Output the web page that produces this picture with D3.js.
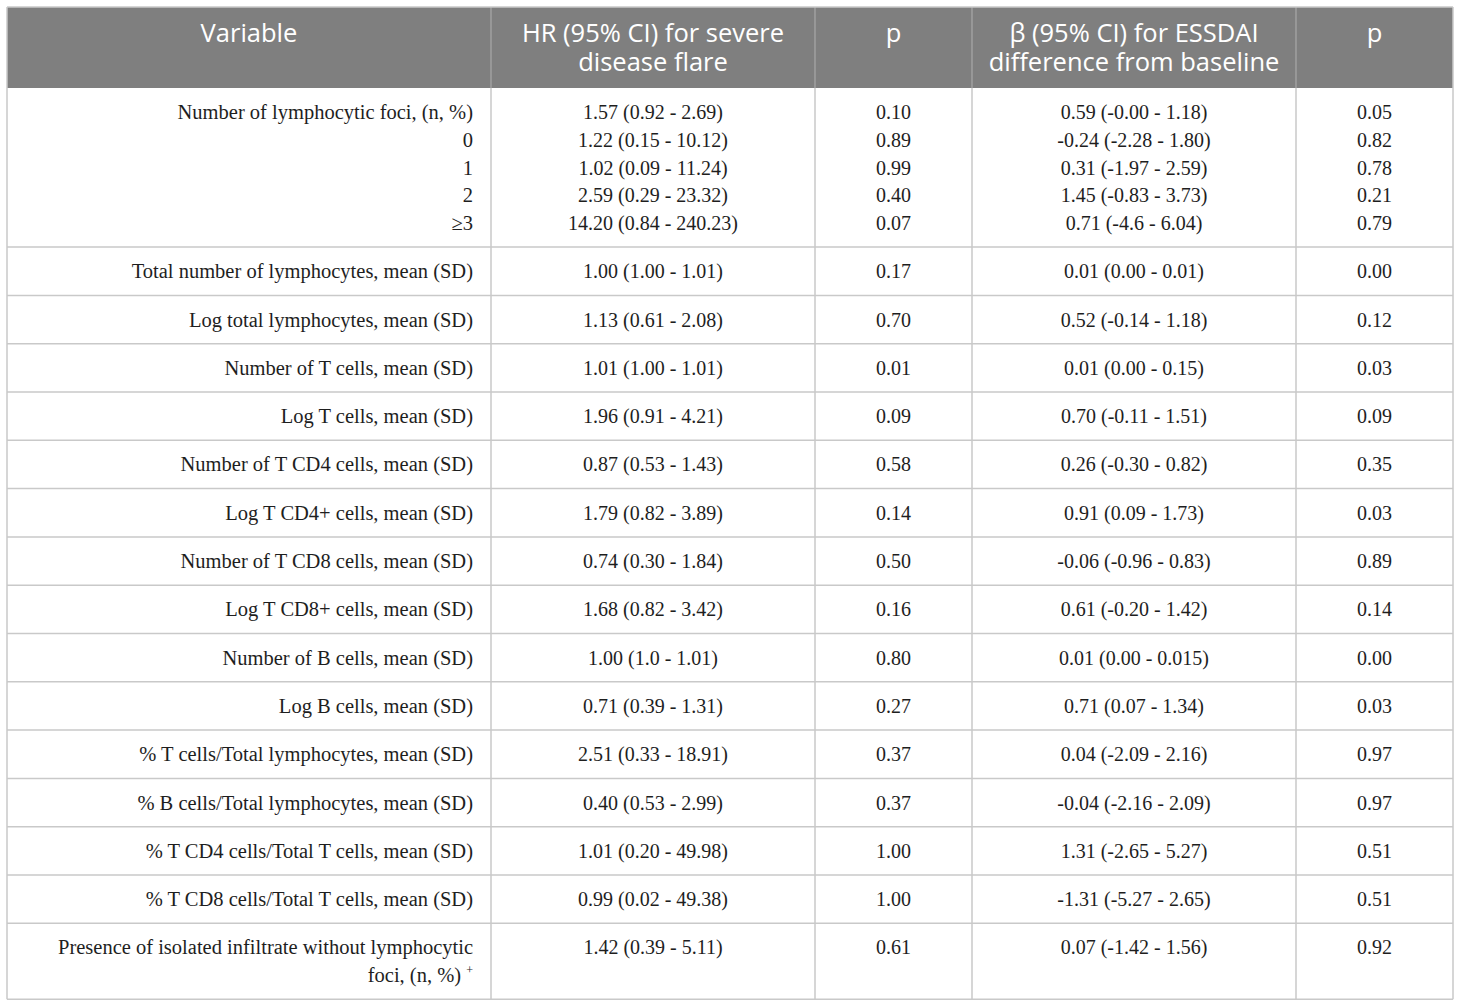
<!DOCTYPE html>
<html lang="en">
<head>
  <meta charset="UTF-8">
  <title>Lymphocytic infiltrate and disease activity</title>
  <script src="https://d3js.org/d3.v7.min.js"></script>
  <style>
    body {
      margin: 0;
      background: #fff;
    }

    svg {
      display: block;
    }

    .head text {
      font-family: "Open Sans", "Noto Sans", sans-serif;
      font-size: 25.5px;
      fill: #fff;
    }

    .body text {
      font-family: "Liberation Serif", "DejaVu Serif", serif;
      font-size: 20px;
      fill: #1e1e1e;
    }

    .body text.label {
      font-size: 20.5px;
    }
  </style>
</head>
<body>
  <svg width="1460" height="1008"></svg>

  <script>
    // header cells, one array of lines per column
    const headers = [
      ["Variable"],
      ["HR (95% CI) for severe", "disease flare"],
      ["p"],
      ["\u03b2 (95% CI) for ESSDAI", "difference from baseline"],
      ["p"]
    ];

    // one entry per table row; the first row holds the foci sub-categories
    const variables = [
      ["Number of lymphocytic foci, (n, %)", "0", "1", "2", "\u22653"],
      ["Total number of lymphocytes, mean (SD)"],
      ["Log total lymphocytes, mean (SD)"],
      ["Number of T cells, mean (SD)"],
      ["Log T cells, mean (SD)"],
      ["Number of T CD4 cells, mean (SD)"],
      ["Log T CD4+ cells, mean (SD)"],
      ["Number of T CD8 cells, mean (SD)"],
      ["Log T CD8+ cells, mean (SD)"],
      ["Number of B cells, mean (SD)"],
      ["Log B cells, mean (SD)"],
      ["% T cells/Total lymphocytes, mean (SD)"],
      ["% B cells/Total lymphocytes, mean (SD)"],
      ["% T CD4 cells/Total T cells, mean (SD)"],
      ["% T CD8 cells/Total T cells, mean (SD)"],
      ["Presence of isolated infiltrate without lymphocytic", "foci, (n, %)+"]
    ];

    const hrFlare = [
      ["1.57 (0.92 - 2.69)", "1.22 (0.15 - 10.12)", "1.02 (0.09 - 11.24)", "2.59 (0.29 - 23.32)", "14.20 (0.84 - 240.23)"],
      ["1.00 (1.00 - 1.01)"],
      ["1.13 (0.61 - 2.08)"],
      ["1.01 (1.00 - 1.01)"],
      ["1.96 (0.91 - 4.21)"],
      ["0.87 (0.53 - 1.43)"],
      ["1.79 (0.82 - 3.89)"],
      ["0.74 (0.30 - 1.84)"],
      ["1.68 (0.82 - 3.42)"],
      ["1.00 (1.0 - 1.01)"],
      ["0.71 (0.39 - 1.31)"],
      ["2.51 (0.33 - 18.91)"],
      ["0.40 (0.53 - 2.99)"],
      ["1.01 (0.20 - 49.98)"],
      ["0.99 (0.02 - 49.38)"],
      ["1.42 (0.39 - 5.11)"]
    ];

    const pFlare = [
      ["0.10", "0.89", "0.99", "0.40", "0.07"],
      ["0.17"], ["0.70"], ["0.01"], ["0.09"], ["0.58"], ["0.14"], ["0.50"],
      ["0.16"], ["0.80"], ["0.27"], ["0.37"], ["0.37"], ["1.00"], ["1.00"],
      ["0.61"]
    ];

    const betaEssdai = [
      ["0.59 (-0.00 - 1.18)", "-0.24 (-2.28 - 1.80)", "0.31 (-1.97 - 2.59)", "1.45 (-0.83 - 3.73)", "0.71 (-4.6 - 6.04)"],
      ["0.01 (0.00 - 0.01)"],
      ["0.52 (-0.14 - 1.18)"],
      ["0.01 (0.00 - 0.15)"],
      ["0.70 (-0.11 - 1.51)"],
      ["0.26 (-0.30 - 0.82)"],
      ["0.91 (0.09 - 1.73)"],
      ["-0.06 (-0.96 - 0.83)"],
      ["0.61 (-0.20 - 1.42)"],
      ["0.01 (0.00 - 0.015)"],
      ["0.71 (0.07 - 1.34)"],
      ["0.04 (-2.09 - 2.16)"],
      ["-0.04 (-2.16 - 2.09)"],
      ["1.31 (-2.65 - 5.27)"],
      ["-1.31 (-5.27 - 2.65)"],
      ["0.07 (-1.42 - 1.56)"]
    ];

    const pEssdai = [
      ["0.05", "0.82", "0.78", "0.21", "0.79"],
      ["0.00"], ["0.12"], ["0.03"], ["0.09"], ["0.35"], ["0.03"], ["0.89"],
      ["0.14"], ["0.00"], ["0.03"], ["0.97"], ["0.97"], ["0.51"], ["0.51"],
      ["0.92"]
    ];

    const columns = [variables, hrFlare, pFlare, betaEssdai, pEssdai];

    // layout
    const left = 7, right = 1453, tableTop = 7, headH = 81;
    const colWidths = [484, 324, 157, 324, 157];
    const lineH = 27.7, padV = 20.6, padX = 18;
    const border = "#c9c9c9";

    const svg = d3.select("svg");

    const edges = Array.from(d3.cumsum([left].concat(colWidths)));
    const colX = d3.scaleOrdinal().domain(d3.range(5)).range(edges.slice(0, 5));
    const colW = d3.scaleOrdinal().domain(d3.range(5)).range(colWidths);

    const rowHeights = variables.map(v => v.length * lineH + padV);
    const rowTops = Array.from(d3.cumsum([0].concat(rowHeights))).map(d => tableTop + headH + d);
    const bottom = rowTops[rowTops.length - 1];

    // header
    const head = svg.append("g").attr("class", "head");
    head.append("rect")
      .attr("x", left).attr("y", tableTop)
      .attr("width", right - left).attr("height", headH)
      .attr("fill", "#7f7f7f");

    head.selectAll("line.sep")
      .data(edges.slice(1, 5))
      .join("line")
      .attr("class", "sep")
      .attr("x1", d => d).attr("x2", d => d)
      .attr("y1", tableTop).attr("y2", tableTop + headH)
      .attr("stroke", "#a8a8a8").attr("stroke-width", 1.2);

    headers.forEach((lines, c) => {
      lines.forEach((line, i) => {
        head.append("text")
          .attr("text-anchor", "middle")
          .attr("x", colX(c) + colW(c) / 2)
          .attr("y", tableTop + 35 + i * 29)
          .text(line);
      });
    });

    // body
    const body = svg.append("g").attr("class", "body");

    body.selectAll("line.h")
      .data(rowTops.slice(1))
      .join("line")
      .attr("class", "h")
      .attr("x1", left).attr("x2", right)
      .attr("y1", d => d).attr("y2", d => d)
      .attr("stroke", border).attr("stroke-width", 1.5);

    body.selectAll("line.v")
      .data(edges)
      .join("line")
      .attr("class", "v")
      .attr("x1", d => d).attr("x2", d => d)
      .attr("y1", (d, i) => (i === 0 || i === edges.length - 1) ? tableTop : tableTop + headH)
      .attr("y2", bottom)
      .attr("stroke", border).attr("stroke-width", 1.5);

    body.append("line")
      .attr("x1", left).attr("x2", right)
      .attr("y1", tableTop).attr("y2", tableTop)
      .attr("stroke", border).attr("stroke-width", 1.5);

    // cell text is top-aligned within each row
    columns.forEach((col, c) => {
      col.forEach((lines, r) => {
        const anchor = c === 0 ? "end" : "middle";
        const x = c === 0 ? colX(c) + colW(c) - padX : colX(c) + colW(c) / 2;
        lines.forEach((line, i) => {
          const y = rowTops[r] + padV / 2 + (i + 0.5) * lineH + 7;
          const t = body.append("text")
            .attr("class", c === 0 ? "label" : "value")
            .attr("x", x).attr("y", y)
            .attr("text-anchor", anchor);
          if (line.endsWith("+")) {
            t.append("tspan").text(line.slice(0, -1) + " ");
            t.append("tspan")
              .attr("dy", -8)
              .attr("font-size", 12)
              .text("+");
          } else {
            t.text(line);
          }
        });
      });
    });
  </script>
</body>
</html>
